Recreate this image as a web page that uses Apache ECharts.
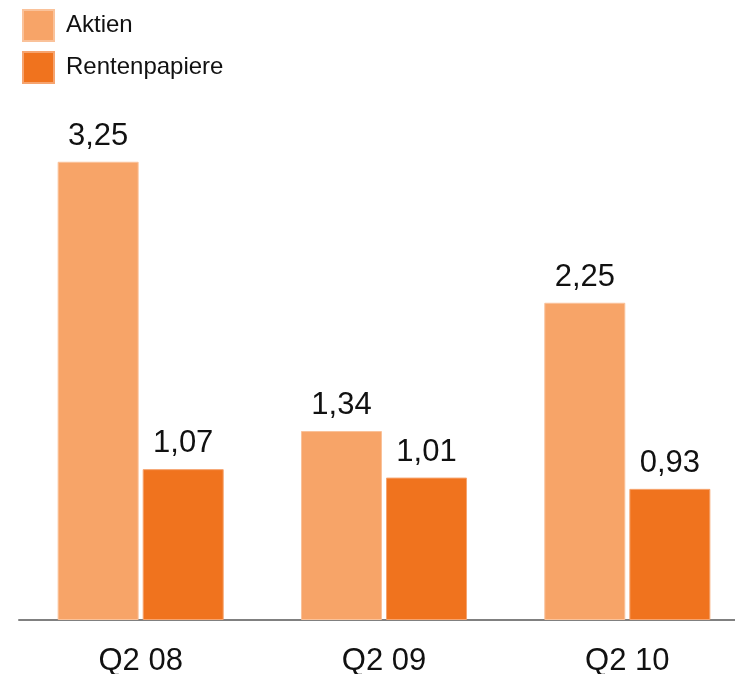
<!DOCTYPE html>
<html>
<head>
<meta charset="utf-8">
<script src="https://cdn.jsdelivr.net/npm/echarts@6/dist/echarts.min.js"></script>
<style>html,body{margin:0;padding:0;background:#fff;overflow:hidden;}#c{width:735px;height:674px;}</style>
</head>
<body>
<div id="c"></div>
<script>
var categories = ['Q2 08', 'Q2 09', 'Q2 10'];
var aktien = [3.25, 1.34, 2.25];
var renten = [1.07, 1.01, 0.93];
var seriesNames = ['Aktien', 'Rentenpapiere'];

var chart = echarts.init(document.getElementById('c'), null, {renderer: 'canvas'});
var fmt = function (p) { return String(p.value.toFixed(2)).replace('.', ','); };
chart.setOption({
  animation: false,
  textStyle: {fontFamily: 'Liberation Sans, Arial, sans-serif'},
  legend: {
    orient: 'vertical', left: 22, top: 9, padding: 0,
    itemWidth: 31, itemHeight: 31, itemGap: 9,
    icon: 'rect',
    textStyle: {fontSize: 24, color: '#111', fontFamily: 'Liberation Sans', padding: [0, 0, 0, 7]},
    data: seriesNames
  },
  grid: {left: 19, width: 730, top: 56, bottom: 54, containLabel: false, outerBoundsMode: 'none'},
  xAxis: {
    type: 'category', data: categories,
    axisLine: {lineStyle: {color: '#808080', width: 2}},
    axisTick: {show: false},
    axisLabel: {fontSize: 31, color: '#111', margin: 26, fontFamily: 'Liberation Sans'}
  },
  yAxis: {type: 'value', min: 0, max: 4, show: false, splitLine: {show: false}},
  series: [
    {
      name: seriesNames[0], type: 'bar', data: aktien, barWidth: 81, barGap: '5%',
      itemStyle: {color: '#F7A468', borderColor: '#FAC29A', borderWidth: 1},
      label: {show: true, position: 'top', distance: 10, fontSize: 31, color: '#111', formatter: fmt, fontFamily: 'Liberation Sans'}
    },
    {
      name: seriesNames[1], type: 'bar', data: renten, barWidth: 81, barGap: '5%',
      itemStyle: {color: '#F0731E', borderColor: '#F6A46F', borderWidth: 1},
      label: {show: true, position: 'top', distance: 10, fontSize: 31, color: '#111', formatter: fmt, fontFamily: 'Liberation Sans'}
    }
  ]
});
</script>
</body>
</html>
